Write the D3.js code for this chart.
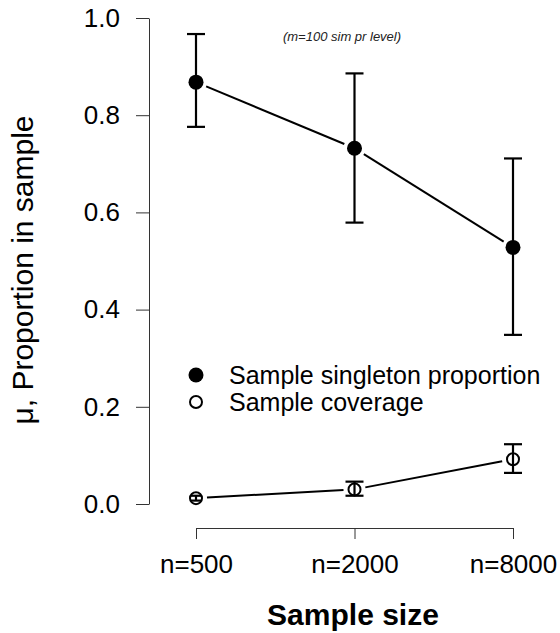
<!DOCTYPE html>
<html lang="en">
<head>
    <meta charset="UTF-8">
    <title>Sample size chart</title>
    <script src="https://cdn.jsdelivr.net/npm/d3@7"></script>
    <style>
        body { margin: 0; background: #fff; }
        svg { display: block; font-family: Arial, "Liberation Sans", sans-serif; }
    </style>
</head>
<body>
<script>
    'use strict';
    // data
    var sizes = ['n=500', 'n=2000', 'n=8000'];
    var singletonMean = [0.868, 0.732, 0.528];
    var singletonLow = [0.776, 0.579, 0.348];
    var singletonHigh = [0.967, 0.886, 0.711];
    var coverageMean = [0.012, 0.030, 0.092];
    var coverageLow = [0.007, 0.017, 0.064];
    var coverageHigh = [0.017, 0.046, 0.123];
    var yTicks = [0, 0.2, 0.4, 0.6, 0.8, 1.0];
    var legendLabels = ['Sample singleton proportion', 'Sample coverage'];

    var w = 560, h = 633;
    var svg = d3.select('body').append('svg')
        .attr('width', w)
        .attr('height', h);

    var x = d3.scalePoint().domain(sizes).range([196, 513]);
    var y = d3.scaleLinear().domain([0, 1]).range([504, 18]);

    // y axis
    var yAxis = svg.append('g')
        .attr('transform', 'translate(149,0)')
        .call(d3.axisLeft(y).tickValues(yTicks).tickFormat(d3.format('.1f'))
            .tickSize(13).tickSizeOuter(0).tickPadding(16));
    yAxis.selectAll('text').attr('font-size', '26px').attr('fill', '#000')
        .attr('font-family', 'Arial, "Liberation Sans", sans-serif');
    yAxis.selectAll('path, line').attr('stroke', '#333');

    // x axis
    var xAxis = svg.append('g')
        .attr('transform', 'translate(0,528)')
        .call(d3.axisBottom(x).tickSize(11).tickSizeOuter(0));
    xAxis.selectAll('text').attr('font-size', '26px').attr('fill', '#000')
        .attr('font-family', 'Arial, "Liberation Sans", sans-serif')
        .attr('y', 45).attr('dy', 0);
    xAxis.selectAll('path, line').attr('stroke', '#333');

    // axis titles
    svg.append('text')
        .attr('x', 353).attr('y', 625)
        .attr('text-anchor', 'middle')
        .attr('font-size', '30px').attr('font-weight', 'bold')
        .text('Sample size');
    svg.append('text')
        .attr('transform', 'rotate(-90)')
        .attr('x', -270).attr('y', 33)
        .attr('text-anchor', 'middle')
        .attr('font-size', '30px')
        .text('\u03bc, Proportion in sample');

    svg.append('text')
        .attr('x', 342).attr('y', 41)
        .attr('text-anchor', 'middle')
        .attr('font-size', '13px').attr('font-style', 'italic')
        .attr('fill', '#222')
        .text('(m=100 sim pr level)');

    // connecting lines with a gap round each point, like type="b"
    function drawSeries(mean, low, high, filled) {
        var g = svg.append('g');
        var gap = 11;
        for (var i = 0; i < mean.length - 1; i++) {
            var x1 = x(sizes[i]), y1 = y(mean[i]);
            var x2 = x(sizes[i + 1]), y2 = y(mean[i + 1]);
            var len = Math.hypot(x2 - x1, y2 - y1);
            var ux = (x2 - x1) / len, uy = (y2 - y1) / len;
            g.append('line')
                .attr('x1', x1 + ux * gap).attr('y1', y1 + uy * gap)
                .attr('x2', x2 - ux * gap).attr('y2', y2 - uy * gap)
                .attr('stroke', '#000').attr('stroke-width', 2);
        }
        // cap half-width shrinks for very short bars
        var capHalf = function (i) {
            return (y(low[i]) - y(high[i])) < 6 ? 5 : 9;
        };
        var pts = g.selectAll('g.pt')
            .data(sizes)
            .enter()
            .append('g');
        pts.append('line')
            .attr('x1', d => x(d)).attr('x2', d => x(d))
            .attr('y1', (d, i) => y(low[i])).attr('y2', (d, i) => y(high[i]))
            .attr('stroke', '#000').attr('stroke-width', 2.2);
        pts.append('line')
            .attr('x1', (d, i) => x(d) - capHalf(i)).attr('x2', (d, i) => x(d) + capHalf(i))
            .attr('y1', (d, i) => y(high[i])).attr('y2', (d, i) => y(high[i]))
            .attr('stroke', '#000').attr('stroke-width', 2.2);
        pts.append('line')
            .attr('x1', (d, i) => x(d) - capHalf(i)).attr('x2', (d, i) => x(d) + capHalf(i))
            .attr('y1', (d, i) => y(low[i])).attr('y2', (d, i) => y(low[i]))
            .attr('stroke', '#000').attr('stroke-width', 2.2);
        pts.append('circle')
            .attr('cx', d => x(d))
            .attr('cy', (d, i) => y(mean[i]))
            .attr('r', filled ? 7.5 : 6)
            .attr('fill', filled ? '#000' : 'none')
            .attr('stroke', '#000')
            .attr('stroke-width', filled ? 0 : 2);
    }
    drawSeries(singletonMean, singletonLow, singletonHigh, true);
    drawSeries(coverageMean, coverageLow, coverageHigh, false);

    // legend
    var legend = svg.append('g');
    legendLabels.forEach(function (lab, i) {
        var cy = 375 + i * 27;
        legend.append('circle')
            .attr('cx', 196).attr('cy', cy)
            .attr('r', i === 0 ? 7.5 : 6)
            .attr('fill', i === 0 ? '#000' : 'none')
            .attr('stroke', '#000')
            .attr('stroke-width', i === 0 ? 0 : 2);
        legend.append('text')
            .attr('x', 229).attr('y', cy + 9)
            .attr('font-size', '25px')
            .text(lab);
    });
</script>
</body>
</html>
